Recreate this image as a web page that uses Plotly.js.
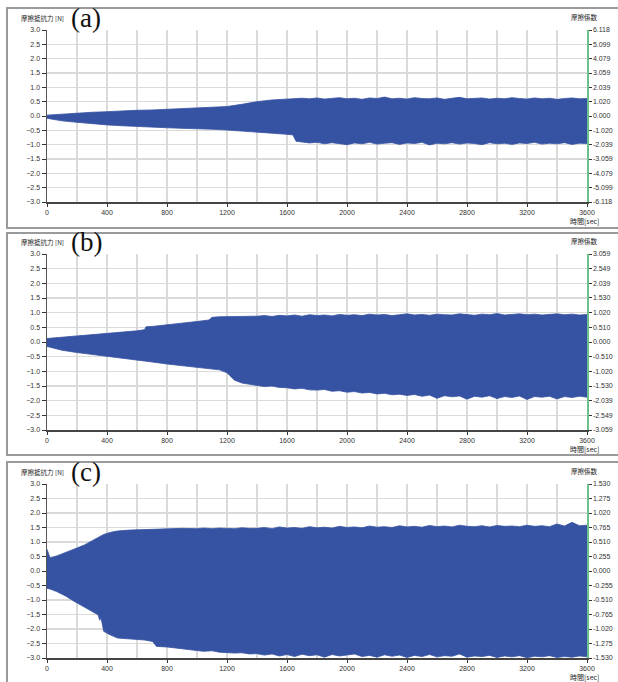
<!DOCTYPE html>
<html><head><meta charset="utf-8">
<script src="https://cdn.plot.ly/plotly-3.0.1.min.js"></script>
<style>html,body{margin:0;padding:0;background:#fff}#c{width:618px;height:682px}</style>
</head><body><div id="c"></div>
<script>
// ---- data: upper/lower envelopes of the friction-force signal ----
// panel (a)
const tA = [0,100,200,300,400,500,600,700,800,900,1000,1100,1200,1300,1400,1500,1600,1640,1660,
  1700,1750,1800,1850,1900,1950,2000,2050,2100,2150,2200,2250,2300,2350,2400,2450,2500,2550,2600,2650,
  2700,2750,2800,2850,2900,2950,3000,3050,3100,3150,3200,3250,3300,3350,3400,3450,3500,3550,3600];
const upperA = [0.03,0.07,0.10,0.13,0.15,0.18,0.20,0.21,0.23,0.25,0.27,0.29,0.33,0.41,0.50,0.56,0.59,0.60,0.61,
  0.62,0.60,0.63,0.59,0.61,0.64,0.60,0.62,0.58,0.63,0.61,0.66,0.60,0.62,0.59,0.64,0.61,0.60,0.63,0.58,
  0.62,0.65,0.60,0.61,0.63,0.59,0.62,0.60,0.64,0.61,0.59,0.63,0.60,0.62,0.58,0.61,0.63,0.60,0.61];
const lowerA = [-0.08,-0.17,-0.22,-0.27,-0.31,-0.34,-0.37,-0.39,-0.41,-0.43,-0.44,-0.46,-0.49,-0.52,-0.56,-0.60,-0.64,-0.66,-0.88,
  -0.90,-0.94,-0.92,-0.97,-0.93,-0.96,-1.00,-0.94,-0.97,-0.92,-0.98,-0.95,-0.93,-0.99,-0.94,-0.96,-0.92,-1.01,-0.95,-0.97,
  -0.93,-0.98,-0.94,-0.96,-1.00,-0.93,-0.97,-0.95,-0.99,-0.94,-0.96,-0.92,-0.98,-0.95,-0.97,-0.93,-0.99,-0.95,-0.96];

// panel (b)
const tB = [0,100,200,300,400,500,600,650,660,700,800,900,1000,1080,1100,1150,1200,1250,1300,1350,
  1400,1450,1500,1550,1600,1650,1700,1750,1800,1850,1900,1950,2000,2050,2100,2150,2200,2250,2300,2350,
  2400,2450,2500,2550,2600,2650,2700,2750,2800,2850,2900,2950,3000,3050,3100,3150,3200,3250,3300,3350,
  3400,3450,3500,3550,3600];
const upperB = [0.12,0.16,0.20,0.24,0.28,0.33,0.38,0.42,0.52,0.53,0.58,0.63,0.70,0.75,0.84,0.86,0.86,0.87,0.88,0.88,
  0.88,0.90,0.87,0.91,0.89,0.92,0.88,0.93,0.90,0.92,0.89,0.94,0.91,0.93,0.90,0.95,0.92,0.94,0.90,0.93,
  0.96,0.92,0.94,0.91,0.95,0.93,0.92,0.96,0.94,0.91,0.95,0.93,0.97,0.92,0.94,0.96,0.93,0.95,0.92,0.94,
  0.96,0.93,0.95,0.92,0.94];
const lowerB = [-0.15,-0.28,-0.36,-0.42,-0.48,-0.54,-0.60,-0.63,-0.64,-0.68,-0.75,-0.80,-0.85,-0.89,-0.90,-0.95,-1.05,-1.30,-1.40,-1.44,
  -1.48,-1.52,-1.50,-1.55,-1.56,-1.60,-1.58,-1.63,-1.64,-1.62,-1.68,-1.66,-1.71,-1.69,-1.74,-1.72,-1.77,-1.75,-1.80,-1.78,
  -1.82,-1.79,-1.85,-1.81,-1.92,-1.83,-1.87,-1.84,-1.95,-1.85,-1.88,-1.83,-1.93,-1.86,-1.89,-1.84,-1.96,-1.86,-1.88,-1.85,
  -1.94,-1.86,-1.89,-1.85,-1.88];

// panel (c)
const tC = [0,20,65,120,183,250,300,340,352,360,378,420,470,550,600,650,704,730,800,900,1000,1043,1100,1150,1250,1300,1350,
  1400,1450,1500,1550,1600,1650,1700,1750,1800,1850,1900,1950,2000,2050,2100,2150,2200,2250,2300,2350,
  2400,2450,2500,2550,2600,2650,2700,2750,2800,2850,2900,2950,3000,3050,3100,3150,3200,3250,3300,3350,
  3400,3450,3500,3550,3600];
const upperC = [0.75,0.45,0.52,0.62,0.76,0.90,1.05,1.16,1.20,1.22,1.26,1.33,1.38,1.41,1.42,1.44,1.43,1.45,1.45,1.47,1.46,1.48,1.46,1.48,1.46,1.49,1.47,
  1.47,1.50,1.46,1.52,1.48,1.50,1.47,1.53,1.49,1.51,1.48,1.54,1.50,1.52,1.49,1.55,1.51,1.53,1.50,1.56,
  1.52,1.54,1.51,1.57,1.53,1.55,1.52,1.58,1.54,1.53,1.56,1.52,1.57,1.54,1.55,1.53,1.58,1.54,1.56,1.53,
  1.62,1.55,1.68,1.56,1.58];
const lowerC = [-0.60,-0.62,-0.71,-0.85,-1.05,-1.25,-1.38,-1.51,-1.70,-1.60,-2.08,-2.20,-2.31,-2.33,-2.36,-2.38,-2.43,-2.60,-2.62,-2.68,-2.72,-2.77,-2.75,-2.80,-2.83,-2.82,-2.86,
  -2.85,-2.90,-2.86,-2.93,-2.88,-2.95,-2.87,-2.92,-2.89,-2.97,-2.88,-2.93,-2.90,-2.86,-2.95,-2.91,-2.97,-2.89,-2.94,-2.90,
  -2.98,-2.91,-2.95,-2.88,-2.96,-2.92,-2.94,-2.86,-2.97,-2.93,-2.95,-2.91,-2.98,-2.93,-2.96,-2.92,-2.99,-2.94,-2.96,-2.92,
  -2.98,-2.95,-2.97,-2.93,-2.96];

const panelLabels = ['(a)','(b)','(c)'];
const leftTitle = '摩擦抵抗力 [N]';
const rightTitle = '摩擦係数';
const xTitle = '時間[sec]';
const rightTicksA = ['6.118','5.099','4.079','3.059','2.039','1.020','0.000','-1.020','-2.039','-3.059','-4.079','-5.099','-6.118'];
const rightTicksB = ['3.059','2.549','2.039','1.530','1.020','0.510','0.000','-0.510','-1.020','-1.530','-2.039','-2.549','-3.059'];
const rightTicksC = ['1.530','1.275','1.020','0.765','0.510','0.255','0.000','-0.255','-0.510','-0.765','-1.020','-1.275','-1.530'];

// ---- layout ----
const W = 618, H = 682;
const fy = p => 1 - p / H, fx = p => p / W;
const BLUE = '#3652a2';
const GRID = '#dadada';
const tickFont = {family: 'Liberation Sans, Arial', size: 7, color: '#333'};
const panels = [
  {t: tA, up: upperA, lo: lowerA, rt: rightTicksA, top: 30, bot: 202, box: [8, 228]},
  {t: tB, up: upperB, lo: lowerB, rt: rightTicksB, top: 254, bot: 430, box: [233, 455]},
  {t: tC, up: upperC, lo: lowerC, rt: rightTicksC, top: 484, bot: 658, box: [462, 690]}
];

const traces = [];
const layout = {
  width: W, height: H, margin: {l: 0, r: 0, t: 0, b: 0},
  paper_bgcolor: '#fff', plot_bgcolor: '#fff', showlegend: false,
  annotations: [], shapes: []
};

panels.forEach((p, i) => {
  const n = i + 1;
  const xa = n === 1 ? 'x' : 'x' + n;
  const ya = n === 1 ? 'y' : 'y' + n;
  const yr = 'y' + (n + 3);
  traces.push({x: p.t, y: p.lo, xaxis: xa, yaxis: ya, mode: 'lines',
               line: {color: BLUE, width: 0.8}, hoverinfo: 'skip'});
  traces.push({x: p.t, y: p.up, xaxis: xa, yaxis: ya, mode: 'lines', fill: 'tonexty',
               fillcolor: BLUE, line: {color: BLUE, width: 0.8}, hoverinfo: 'skip'});
  const rv = p.rt.map(Number);
  const R = Math.max(...rv);
  traces.push({x: [0], y: [0], xaxis: xa, yaxis: yr, mode: 'markers',
               marker: {opacity: 0}, hoverinfo: 'skip'});

  layout[(n === 1 ? 'xaxis' : 'xaxis' + n)] = {
    domain: [fx(47), fx(587)], anchor: ya, range: [0, 3600],
    tickmode: 'linear', tick0: 0, dtick: 400, ticks: 'outside', ticklen: 3, tickcolor: '#333',
    showgrid: true, gridcolor: GRID, gridwidth: 1.5,
    minor: {dtick: 200, tick0: 0, showgrid: true, gridcolor: GRID, gridwidth: 1.5},
    showline: true, linecolor: '#444', linewidth: 1.5, zeroline: false,
    tickfont: tickFont, fixedrange: true
  };
  layout[(n === 1 ? 'yaxis' : 'yaxis' + n)] = {
    domain: [fy(p.bot), fy(p.top)], anchor: xa, range: [-3, 3],
    tickmode: 'linear', tick0: -3, dtick: 0.5, tickformat: '.1f',
    ticks: 'outside', ticklen: 4, tickcolor: '#333',
    showgrid: true, gridcolor: GRID, gridwidth: 1.5, zeroline: false,
    showline: true, linecolor: '#555', linewidth: 1.5,
    tickfont: tickFont, fixedrange: true
  };
  layout['yaxis' + (n + 3)] = {
    overlaying: ya, anchor: xa, side: 'right', range: [-R, R],
    tickmode: 'array', tickvals: rv, ticktext: p.rt,
    ticks: 'outside', ticklen: 3, tickcolor: '#333',
    showgrid: false, zeroline: false, showline: true, linecolor: '#6cc08a', linewidth: 1.5,
    tickfont: tickFont, fixedrange: true
  };

  layout.shapes.push({type: 'rect', xref: 'paper', yref: 'paper',
    x0: fx(7), x1: fx(640), y0: fy(p.box[1]), y1: fy(p.box[0]),
    line: {color: '#9a9a9a', width: 2}, fillcolor: 'rgba(0,0,0,0)', layer: 'below'});

  layout.annotations.push({xref: 'paper', yref: 'paper', x: fx(86), y: fy(p.top - 12),
    text: panelLabels[i], showarrow: false, xanchor: 'center', yanchor: 'middle',
    font: {family: 'Liberation Serif, Times New Roman, serif', size: 27, color: '#111'}});
  layout.annotations.push({xref: 'paper', yref: 'paper', x: fx(19), y: fy(p.top - 12),
    text: leftTitle, showarrow: false, xanchor: 'left', yanchor: 'middle',
    font: {family: 'Noto Sans CJK JP', size: 6.5, color: '#222'}});
  layout.annotations.push({xref: 'paper', yref: 'paper', x: fx(600), y: fy(p.top - 13),
    text: rightTitle, showarrow: false, xanchor: 'right', yanchor: 'middle',
    font: {family: 'Noto Sans CJK JP', size: 6.5, color: '#222'}});
  layout.annotations.push({xref: 'paper', yref: 'paper', x: fx(601), y: fy(p.bot + 19),
    text: xTitle, showarrow: false, xanchor: 'right', yanchor: 'middle',
    font: {family: 'Noto Sans CJK JP', size: 7, color: '#222'}});
});

Plotly.newPlot('c', traces, layout, {staticPlot: true, displayModeBar: false});
</script></body></html>
